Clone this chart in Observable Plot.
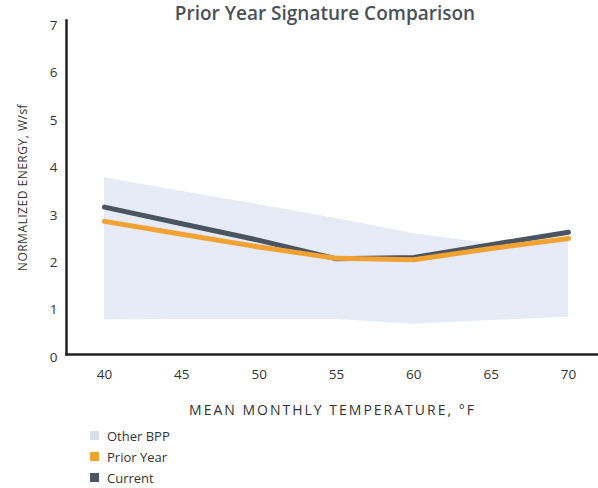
<!DOCTYPE html>
<html>
<head>
<meta charset="utf-8">
<script src="https://cdn.jsdelivr.net/npm/d3@7"></script>
<script src="https://cdn.jsdelivr.net/npm/@observablehq/plot@0.6"></script>
<style>
  html, body { margin: 0; padding: 0; background: #fff; }
  body { width: 598px; height: 488px; position: relative; overflow: hidden; font-family: "Open Sans", sans-serif; }
  #title { position: absolute; left: 0; top: 0; width: 650px; text-align: center; font-size: 19px; font-weight: 600; color: #4b5057; line-height: 26px; z-index: 2; }
  #chart { position: absolute; left: 0; top: 0; }
  #legend { position: absolute; left: 90px; top: 425px; font-size: 13px; color: #333; }
  .item { display: flex; align-items: center; height: 21px; }
  .sw { width: 9px; height: 9px; margin-right: 8px; }
  g[aria-label='y-axis label'] text { font-size: 12px; letter-spacing: 0.5px; fill: #333; }
  g[aria-label='x-axis label'] text { font-size: 14px; letter-spacing: 2px; fill: #333; }
</style>
</head>
<body>
<div id="title">Prior Year Signature Comparison</div>
<div id="chart"></div>
<div id="legend"></div>
<script>
const temps = [40, 45, 50, 55, 60, 65, 70];
const bandUpper = [3.79, 3.50, 3.22, 2.93, 2.61, 2.40, 2.50];
const bandLower = [0.79, 0.80, 0.80, 0.80, 0.70, 0.78, 0.85];
const current = [3.17, 2.82, 2.47, 2.08, 2.11, 2.38, 2.64];
const priorYear = [2.87, 2.60, 2.33, 2.09, 2.06, 2.30, 2.51];
const xTicks = [40, 45, 50, 55, 60, 65, 70];
const yTicks = [0, 1, 2, 3, 4, 5, 6, 7];
const seriesNames = ["Other BPP", "Prior Year", "Current"];
const seriesColors = ["#e6ebf5", "#f2a232", "#4b5561"];

const band = temps.map((t, i) => ({t, lo: bandLower[i], hi: bandUpper[i]}));
const cur = temps.map((t, i) => ({t, v: current[i]}));
const prior = temps.map((t, i) => ({t, v: priorYear[i]}));

const plot = Plot.plot({
  width: 598,
  height: 425,
  marginLeft: 66,
  marginRight: 0,
  marginTop: 20,
  marginBottom: 71,
  style: {fontFamily: "'Open Sans', sans-serif", fontSize: "13px", color: "#333"},
  x: {domain: [40, 70], range: [104, 568]},
  y: {domain: [0, 7], range: [357, 25]},
  marks: [
    Plot.areaY(band, {x: "t", y1: "lo", y2: "hi", fill: seriesColors[0]}),
    Plot.lineY(cur, {x: "t", y: "v", stroke: seriesColors[2], strokeWidth: 5, strokeLinecap: "round", strokeLinejoin: "round"}),
    Plot.lineY(prior, {x: "t", y: "v", stroke: seriesColors[1], strokeWidth: 5, strokeLinecap: "round", strokeLinejoin: "round"}),
    Plot.axisX({ticks: xTicks, tickSize: 0, tickPadding: 15, fontSize: 13.5, fill: "#333", tickFormat: "d",
      label: "MEAN MONTHLY TEMPERATURE, °F", labelAnchor: "center", labelArrow: "none", labelOffset: 60}),
    Plot.axisY({ticks: yTicks, tickSize: 0, tickPadding: 9, fontSize: 13.5, fill: "#333", tickFormat: "d",
      label: "NORMALIZED ENERGY, W/sf", labelAnchor: "center", labelArrow: "none", labelOffset: 48}),
    Plot.frame({anchor: "left", stroke: "#222", strokeWidth: 2.5, strokeOpacity: 1}),
    Plot.frame({anchor: "bottom", stroke: "#222", strokeWidth: 2.5, strokeOpacity: 1})
  ]
});
document.getElementById("chart").appendChild(plot);

const legend = document.getElementById("legend");
seriesNames.forEach((n, i) => {
  const d = document.createElement("div");
  d.className = "item";
  const s = document.createElement("span");
  s.className = "sw"; s.style.background = i === 0 ? "#d9dfec" : seriesColors[i];
  const l = document.createElement("span");
  l.textContent = n;
  d.appendChild(s); d.appendChild(l);
  legend.appendChild(d);
});
</script>
</body>
</html>
